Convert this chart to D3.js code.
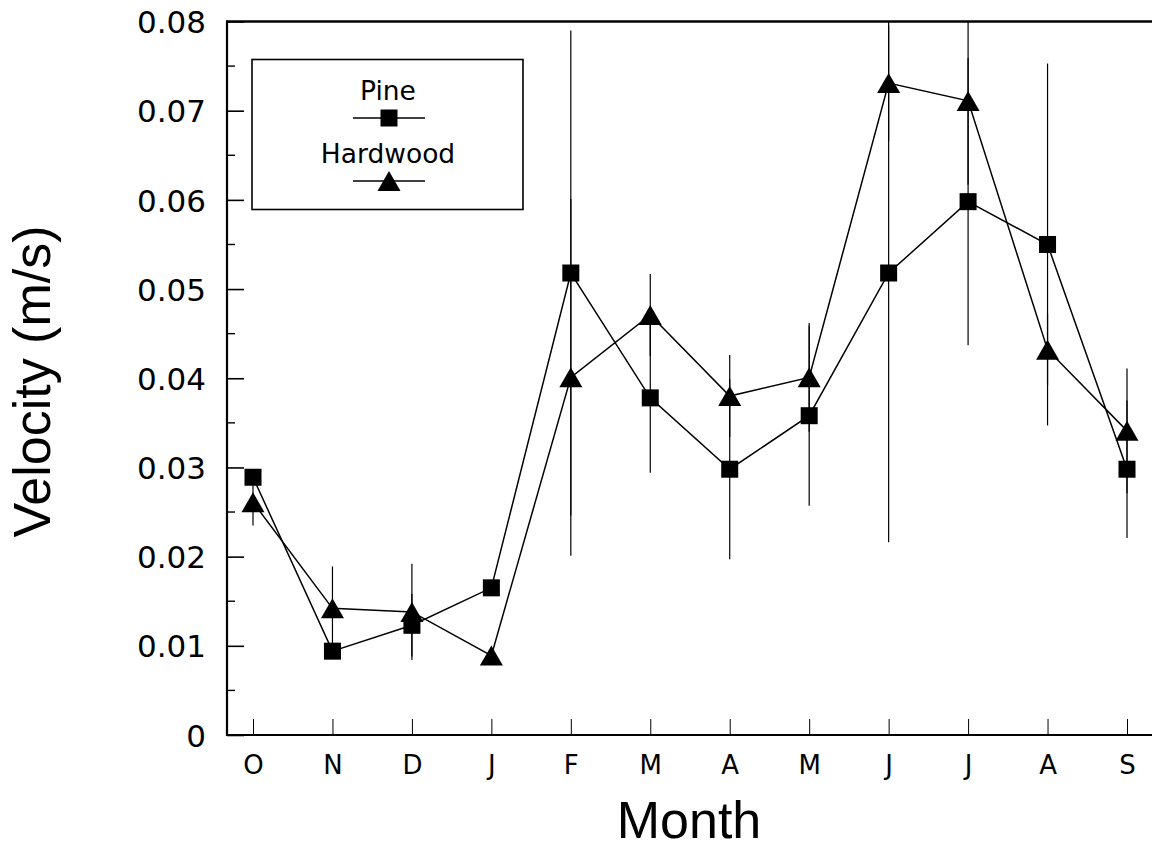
<!DOCTYPE html>
<html>
<head>
<meta charset="utf-8">
<script src="https://cdn.jsdelivr.net/npm/d3@7"></script>
<style>
  html, body { margin: 0; padding: 0; background: #fff; }
  svg { display: block; }
  text { fill: #000; }
</style>
</head>
<body>
<svg id="chart" width="1152" height="851"></svg>
<script>
// Monthly sap velocity, October through September
const months = ["O", "N", "D", "J", "F", "M", "A", "M", "J", "J", "A", "S"];

const pineVelocity = [0.0289, 0.0094, 0.0123, 0.0165, 0.0518, 0.0378, 0.0298, 0.0358, 0.0518, 0.0598, 0.0550, 0.0298];
const pineError    = [0.0005, 0.0005, 0.0035, 0.0005, 0.0272, 0.0084, 0.0101, 0.0101, 0.0302, 0.0161, 0.0203, 0.0077];

const hardwoodVelocity = [0.0261, 0.0142, 0.0138, 0.0089, 0.0401, 0.0471, 0.0380, 0.0401, 0.0731, 0.0711, 0.0432, 0.0341];
const hardwoodError    = [0.0026, 0.0047, 0.0054, 0.0005, 0.0200, 0.0046, 0.0046, 0.0061, 0.0065, 0.0094, 0.0040, 0.0070];

const yMajorTicks = [0, 0.01, 0.02, 0.03, 0.04, 0.05, 0.06, 0.07, 0.08];
const yMinorTicks = [0.005, 0.015, 0.025, 0.035, 0.045, 0.055, 0.065, 0.075];

const seriesNames = ["Pine", "Hardwood"];

const labelFont = "DejaVu Sans, Verdana, sans-serif";
const titleFont = "Liberation Sans, Arial, Helvetica, sans-serif";

const svg = d3.select("#chart");
const W = 1152, H = 851;

const frame = { left: 227, top: 21.5, right: 1160, bottom: 735 };

const x = d3.scaleLinear().domain([0, months.length - 1]).range([253, 1127]);
const y = d3.scaleLinear().domain([0, 0.08]).range([frame.bottom, frame.top]);

svg.append("rect").attr("width", W).attr("height", H).attr("fill", "#fff");

svg.append("defs").append("clipPath").attr("id", "plotClip")
  .append("rect")
  .attr("x", frame.left).attr("y", frame.top)
  .attr("width", frame.right - frame.left).attr("height", frame.bottom - frame.top);

const fmt = d => d === 0 ? "0" : d3.format(".2f")(d);

// Y axis: major ticks with labels, drawn inward
const yAxis = d3.axisLeft(y)
  .tickValues(yMajorTicks)
  .tickSizeInner(-17)
  .tickSizeOuter(0)
  .tickPadding(21)
  .tickFormat(fmt);

const gy = svg.append("g").attr("transform", `translate(${frame.left},0)`).call(yAxis);
gy.select(".domain").remove();
gy.selectAll(".tick line").attr("stroke", "#000").attr("stroke-width", 1.6);
gy.selectAll(".tick text")
  .attr("font-size", 31).attr("font-family", labelFont)
  .attr("dy", "0.36em");

// Y axis minor ticks
svg.append("g").selectAll("line").data(yMinorTicks).join("line")
  .attr("x1", frame.left).attr("x2", frame.left + 8)
  .attr("y1", d => y(d)).attr("y2", d => y(d))
  .attr("stroke", "#000").attr("stroke-width", 1.4);

// X axis: month ticks pointing up into the plot
const xAxis = d3.axisBottom(x)
  .tickValues(d3.range(months.length))
  .tickSizeInner(-16)
  .tickSizeOuter(0)
  .tickPadding(21)
  .tickFormat(i => months[i]);

const gx = svg.append("g").attr("transform", `translate(0,${frame.bottom})`).call(xAxis);
gx.select(".domain").remove();
gx.selectAll(".tick line").attr("stroke", "#000").attr("stroke-width", 1);
gx.selectAll(".tick text").attr("font-size", 26).attr("font-family", labelFont).attr("dy", "0.71em");

// Frame lines: left, top, bottom
const frameG = svg.append("g").attr("stroke", "#000").attr("fill", "none");
frameG.append("line").attr("x1", frame.left).attr("x2", frame.left)
  .attr("y1", frame.top - 1).attr("y2", frame.bottom + 1).attr("stroke-width", 2.2);
frameG.append("line").attr("x1", frame.left - 1).attr("x2", W)
  .attr("y1", frame.top).attr("y2", frame.top).attr("stroke-width", 2.4);
frameG.append("line").attr("x1", frame.left - 1).attr("x2", W)
  .attr("y1", frame.bottom).attr("y2", frame.bottom).attr("stroke-width", 2.2);

// Axis titles
svg.append("text")
  .attr("transform", `translate(50,${(220 + 543) / 2}) rotate(-90)`)
  .attr("text-anchor", "middle").attr("font-size", 52).attr("font-family", titleFont)
  .text("Velocity (m/s)");

svg.append("text")
  .attr("x", 689).attr("y", 838)
  .attr("text-anchor", "middle").attr("font-size", 52).attr("font-family", titleFont)
  .text("Month");

const plot = svg.append("g").attr("clip-path", "url(#plotClip)");

const series = [
  { name: seriesNames[0], values: pineVelocity, errors: pineError, shape: "square" },
  { name: seriesNames[1], values: hardwoodVelocity, errors: hardwoodError, shape: "triangle" }
];

// Error bars (vertical only)
series.forEach(s => {
  plot.append("g").selectAll("line").data(s.values).join("line")
    .attr("x1", (d, i) => x(i)).attr("x2", (d, i) => x(i))
    .attr("y1", (d, i) => y(d + s.errors[i]))
    .attr("y2", (d, i) => y(d - s.errors[i]))
    .attr("stroke", "#000").attr("stroke-width", 1.2);
});

// Connecting lines
const line = d3.line().x((d, i) => x(i)).y(d => y(d));
series.forEach(s => {
  plot.append("path").datum(s.values)
    .attr("d", line)
    .attr("fill", "none").attr("stroke", "#000").attr("stroke-width", 1.5);
});

// Markers
const squareSize = 17;
const triW = 23, triH = 20;
const trianglePath = (cx, cy) =>
  `M${cx},${cy - triH / 2}L${cx + triW / 2},${cy + triH / 2}L${cx - triW / 2},${cy + triH / 2}Z`;

function drawMarker(g, shape, cx, cy) {
  if (shape === "square") {
    g.append("rect")
      .attr("x", cx - squareSize / 2).attr("y", cy - squareSize / 2)
      .attr("width", squareSize).attr("height", squareSize)
      .attr("fill", "#000");
  } else {
    g.append("path").attr("d", trianglePath(cx, cy)).attr("fill", "#000");
  }
}

series.forEach(s => {
  const g = svg.append("g");
  s.values.forEach((v, i) => drawMarker(g, s.shape, x(i), y(v)));
});

// Legend
const legend = svg.append("g");
legend.append("rect")
  .attr("x", 252).attr("y", 59.5).attr("width", 271).attr("height", 150)
  .attr("fill", "#fff").attr("stroke", "#000").attr("stroke-width", 1.6);

const legendRows = [
  { label: seriesNames[0], textY: 100, lineY: 118, shape: "square" },
  { label: seriesNames[1], textY: 163, lineY: 181, shape: "triangle" }
];
legendRows.forEach(r => {
  legend.append("text")
    .attr("x", 388).attr("y", r.textY)
    .attr("text-anchor", "middle").attr("font-size", 26.5).attr("font-family", labelFont)
    .text(r.label);
  legend.append("line")
    .attr("x1", 353).attr("x2", 425).attr("y1", r.lineY).attr("y2", r.lineY)
    .attr("stroke", "#000").attr("stroke-width", 1.5);
  drawMarker(legend, r.shape, 389, r.lineY);
});
</script>
</body>
</html>
